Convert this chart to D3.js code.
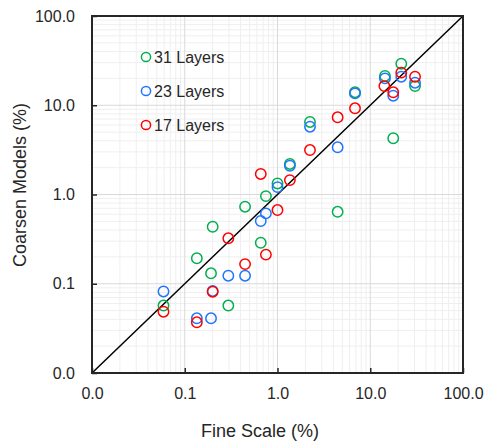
<!DOCTYPE html>
<html>
<head>
  <script src="https://d3js.org/d3.v7.min.js"></script>
  <style>
    body { margin: 0; background: #fff; }
    text { font-family: Arial, "Liberation Sans", sans-serif; fill: #262626; }
  </style>
</head>
<body>
  <svg id="canvas" width="487" height="447"></svg>
  <script>
    // values (percent)
    const green31 = [
      [0.059, 0.057], [0.135, 0.193], [0.192, 0.131], [0.2, 0.435], [0.295, 0.057],
      [0.447, 0.73], [0.66, 0.288], [0.75, 0.96], [1.0, 1.33], [1.36, 2.2],
      [2.24, 6.5], [4.45, 0.64], [6.85, 14.0], [14.4, 21.3], [17.7, 4.27],
      [21.6, 29.2], [30.4, 16.4]
    ];
    const blue23 = [
      [0.059, 0.082], [0.135, 0.041], [0.192, 0.041], [0.2, 0.083], [0.295, 0.123],
      [0.447, 0.123], [0.66, 0.505], [0.75, 0.615], [1.0, 1.21], [1.36, 2.1],
      [2.24, 5.75], [4.45, 3.38], [6.85, 13.6], [14.4, 20.0], [17.7, 12.8],
      [21.6, 20.9], [30.4, 17.9]
    ];
    const red17 = [
      [0.059, 0.0486], [0.135, 0.037], [0.2, 0.0815], [0.295, 0.323], [0.447, 0.166],
      [0.66, 1.7], [0.75, 0.212], [1.0, 0.67], [1.36, 1.45], [2.24, 3.15],
      [4.45, 7.33], [6.85, 9.25], [14.2, 16.4], [17.7, 13.96], [21.6, 23.2],
      [30.4, 20.9]
    ];
    const seriesNames = ["31 Layers", "23 Layers", "17 Layers"];
    const seriesColors = ["#00b050", "#1f75fe", "#ff0000"];
    const tickValues = [0.01, 0.1, 1, 10, 100];
    const tickLabels = ["0.0", "0.1", "1.0", "10.0", "100.0"];

    const svg = d3.select("#canvas");
    const pLeft = 92, pRight = 463, pTop = 16, pBottom = 373;

    const x = d3.scaleLog().domain([0.01, 100]).range([pLeft, pRight]);
    const y = d3.scaleLog().domain([0.01, 100]).range([pBottom, pTop]);

    // minor grid: 2..9 in each decade
    const minor = [];
    for (let d = 0.01; d < 100; d *= 10) {
      for (let k = 2; k <= 9; k++) minor.push(d * k);
    }
    const grid = svg.append("g");
    grid.selectAll(".mx").data(minor).enter().append("line")
      .attr("x1", d => x(d)).attr("x2", d => x(d))
      .attr("y1", pTop).attr("y2", pBottom)
      .attr("stroke", "#efefef").attr("stroke-width", 1);
    grid.selectAll(".my").data(minor).enter().append("line")
      .attr("y1", d => y(d)).attr("y2", d => y(d))
      .attr("x1", pLeft).attr("x2", pRight)
      .attr("stroke", "#efefef").attr("stroke-width", 1);
    grid.selectAll(".Mx").data(tickValues).enter().append("line")
      .attr("x1", d => x(d)).attr("x2", d => x(d))
      .attr("y1", pTop).attr("y2", pBottom)
      .attr("stroke", "#d9d9d9").attr("stroke-width", 1);
    grid.selectAll(".My").data(tickValues).enter().append("line")
      .attr("y1", d => y(d)).attr("y2", d => y(d))
      .attr("x1", pLeft).attr("x2", pRight)
      .attr("stroke", "#d9d9d9").attr("stroke-width", 1);

    // 1:1 line
    svg.append("line")
      .attr("x1", x(0.01)).attr("y1", y(0.01))
      .attr("x2", x(100)).attr("y2", y(100))
      .attr("stroke", "#000").attr("stroke-width", 1.5);

    // axes with inward ticks
    const xAxis = svg.append("g").attr("transform", `translate(0,${pBottom})`)
      .call(d3.axisBottom(x).tickValues(tickValues).tickSize(-5)
        .tickFormat((d, i) => tickLabels[i]).tickPadding(15));
    const yAxis = svg.append("g").attr("transform", `translate(${pLeft},0)`)
      .call(d3.axisLeft(y).tickValues(tickValues).tickSize(-5)
        .tickFormat((d, i) => tickLabels[i]).tickPadding(17));
    [xAxis, yAxis].forEach(a => {
      a.select(".domain").remove();
      a.selectAll(".tick line").attr("stroke", "#262626").attr("stroke-width", 1.5);
      a.selectAll(".tick text").attr("font-size", 16).attr("fill", "#262626")
        .attr("font-family", "Arial, 'Liberation Sans', sans-serif");
    });

    // frame
    svg.append("rect")
      .attr("x", pLeft).attr("y", pTop)
      .attr("width", pRight - pLeft).attr("height", pBottom - pTop)
      .attr("fill", "none").attr("stroke", "#262626").attr("stroke-width", 2);

    // points
    [green31, blue23, red17].forEach((data, i) => {
      svg.append("g").selectAll("circle").data(data).enter().append("circle")
        .attr("cx", d => x(d[0])).attr("cy", d => y(d[1]))
        .attr("r", 5.2)
        .attr("fill", "none")
        .attr("stroke", seriesColors[i])
        .attr("stroke-width", 1.5);
    });

    // legend
    const legend = svg.append("g");
    seriesNames.forEach((name, i) => {
      const ly = 57 + i * 34;
      legend.append("circle").attr("cx", 146).attr("cy", ly).attr("r", 4.6)
        .attr("fill", "none").attr("stroke", seriesColors[i]).attr("stroke-width", 1.5);
      legend.append("text").attr("x", 154).attr("y", ly + 6)
        .attr("font-size", 16).text(name);
    });

    // axis titles
    svg.append("text").attr("x", 260).attr("y", 437)
      .attr("text-anchor", "middle").attr("font-size", 18).text("Fine Scale (%)");
    svg.append("text")
      .attr("transform", "translate(26,185) rotate(-90)")
      .attr("text-anchor", "middle").attr("font-size", 18).text("Coarsen Models (%)");
  </script>
</body>
</html>
